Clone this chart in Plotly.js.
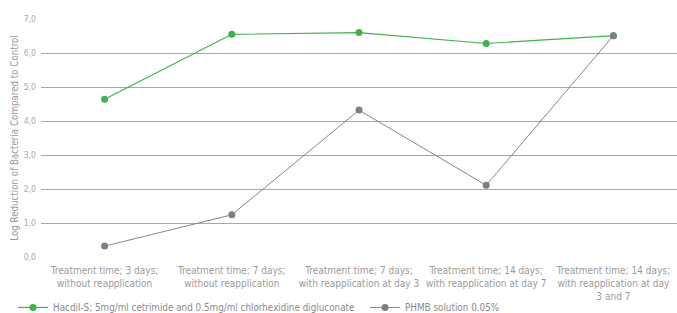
<!DOCTYPE html>
<html><head><meta charset="utf-8">
<script src="https://cdn.plot.ly/plotly-3.0.1.min.js"></script>
<style>body{margin:0;background:#fff}#c{width:677px;height:313px}</style>
</head><body><div id="c"></div>
<script>
const categories = [
  "Treatment time; 3 days;<br>without reapplication",
  "Treatment time; 7 days;<br>without reapplication",
  "Treatment time; 7 days;<br>with reapplication at day 3",
  "Treatment time; 14 days;<br>with reapplication at day 7",
  "Treatment time; 14 days;<br>with reapplication at day<br>3 and 7"
];
const hacdil = [4.64, 6.55, 6.6, 6.28, 6.51];
const phmb = [0.32, 1.24, 4.32, 2.11, 6.51];
const yTicks = [0,1,2,3,4,5,6,7];
const seriesNames = [
  'Hacdil-S; 5mg/ml cetrimide and 0.5mg/ml chlorhexidine digluconate',
  'PHMB solution 0.05%'
];

const font = "'Liberation Sans Narrow', 'DejaVu Sans Condensed', 'Roboto', sans-serif";
const traces = [
  {x: categories, y: hacdil, type: 'scatter', mode: 'lines+markers',
   name: seriesNames[0] + '&nbsp;&nbsp;',
   line: {color: '#3bb54a', width: 1.2}, marker: {color: '#3bb54a', size: 7}},
  {x: categories, y: phmb, type: 'scatter', mode: 'lines+markers',
   name: seriesNames[1],
   line: {color: '#868686', width: 1}, marker: {color: '#7f7f7f', size: 7}}
];
const layout = {
  width: 677, height: 313,
  margin: {l: 41, r: 0, t: 19, b: 56, autoexpand: false},
  paper_bgcolor: '#fff', plot_bgcolor: '#fff',
  separators: ', ',
  font: {family: font, size: 10, color: '#9a9a9a'},
  showlegend: true,
  legend: {orientation: 'h', x: -0.044, xanchor: 'left', y: -0.151, yanchor: 'top',
           font: {family: font, size: 9.8, color: '#8a8a8a'}, itemwidth: 30},
  xaxis: {type: 'category', range: [-0.5, 4.5], showgrid: false, zeroline: false,
          showline: false, ticks: '', ticklabelstandoff: 6,
          tickfont: {family: font, size: 10, color: '#9a9a9a'}},
  yaxis: {range: [0, 7], tickvals: yTicks, tickformat: '.1f', showgrid: true,
          gridcolor: '#a8a8a8', gridwidth: 1, zeroline: false, showline: false,
          ticks: '', ticklabelstandoff: 4,
          tickfont: {family: font, size: 8.5, color: '#a8a8a8'},
          title: {text: 'Log Reduction of Bacteria Compared to Control', standoff: 3,
                  font: {family: font, size: 9.7, color: '#9a9a9a'}}}
};
Plotly.newPlot('c', traces, layout, {displayModeBar: false, staticPlot: true});
</script></body></html>
